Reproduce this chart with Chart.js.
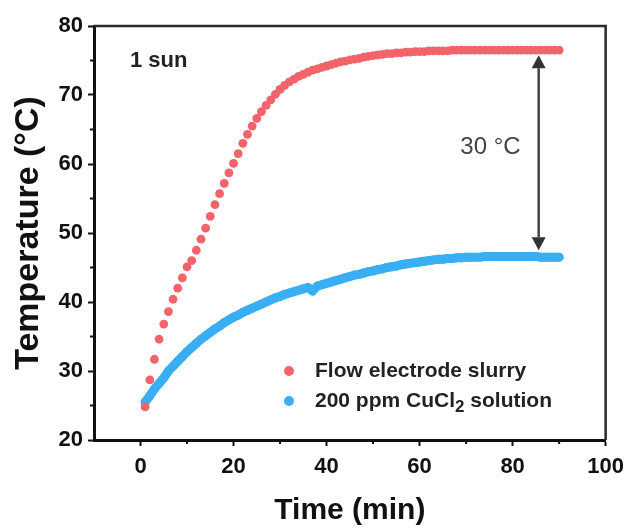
<!DOCTYPE html>
<html>
<head>
<meta charset="utf-8">
<script src="https://cdn.jsdelivr.net/npm/chart.js@4.4.1/dist/chart.umd.min.js"></script>
<style>
  html, body { margin: 0; padding: 0; background: #fff; }
</style>
</head>
<body>
<canvas id="temperature" width="632" height="529"></canvas>
<script>
// sampling times (min), one reading per minute
const minutes = [
  1, 2, 3, 4, 5, 6, 7, 8, 9, 10, 11, 12, 13, 14, 15, 16, 17, 18, 19, 20,
  21, 22, 23, 24, 25, 26, 27, 28, 29, 30, 31, 32, 33, 34, 35, 36, 37, 38, 39, 40,
  41, 42, 43, 44, 45, 46, 47, 48, 49, 50, 51, 52, 53, 54, 55, 56, 57, 58, 59, 60,
  61, 62, 63, 64, 65, 66, 67, 68, 69, 70, 71, 72, 73, 74, 75, 76, 77, 78, 79, 80,
  81, 82, 83, 84, 85, 86, 87, 88, 89, 90,
];

// flow electrode slurry (°C)
const slurryTemp = [
  24.8, 28.7, 31.7, 34.6, 36.8, 38.6, 40.4, 42.0, 43.5, 45.1,
  46.0, 47.5, 49.1, 50.7, 52.4, 54.1, 55.7, 57.2, 58.7, 60.1,
  61.5, 63.0, 64.3, 65.5, 66.6, 67.6, 68.5, 69.3, 70.1, 70.8,
  71.4, 71.9, 72.3, 72.7, 73.0, 73.3, 73.6, 73.8, 74.0, 74.2,
  74.4, 74.6, 74.8, 74.9, 75.1, 75.2, 75.3, 75.5, 75.6, 75.7,
  75.8, 75.9, 76.0, 76.0, 76.1, 76.1, 76.2, 76.2, 76.3, 76.3,
  76.3, 76.4, 76.4, 76.4, 76.4, 76.4, 76.5, 76.5, 76.5, 76.5,
  76.5, 76.5, 76.5, 76.5, 76.5, 76.5, 76.5, 76.5, 76.5, 76.5,
  76.5, 76.5, 76.5, 76.5, 76.5, 76.5, 76.5, 76.5, 76.5, 76.5,
];

// 200 ppm CuCl2 solution (°C)
const solutionTemp = [
  25.5, 26.4, 27.4, 28.2, 29.0, 30.0, 30.7, 31.4, 32.1, 32.8,
  33.4, 34.0, 34.6, 35.1, 35.6, 36.1, 36.5, 37.0, 37.4, 37.8,
  38.1, 38.5, 38.8, 39.1, 39.4, 39.7, 40.0, 40.3, 40.6, 40.8,
  41.1, 41.3, 41.5, 41.7, 41.9, 42.1, 41.6, 42.3, 42.5, 42.7,
  42.9, 43.1, 43.3, 43.5, 43.7, 43.9, 44.0, 44.2, 44.4, 44.5,
  44.7, 44.8, 45.0, 45.1, 45.2, 45.4, 45.5, 45.6, 45.7, 45.8,
  45.9, 46.0, 46.1, 46.2, 46.2, 46.3, 46.3, 46.4, 46.4, 46.5,
  46.5, 46.5, 46.5, 46.6, 46.6, 46.6, 46.6, 46.6, 46.6, 46.6,
  46.6, 46.6, 46.6, 46.6, 46.6, 46.5, 46.5, 46.5, 46.5, 46.5,
];

const xTicks = [0, 20, 40, 60, 80, 100];
const xMinor = [10, 30, 50, 70, 90];
const yTicks = [20, 30, 40, 50, 60, 70, 80];
const yMinor = [25, 35, 45, 55, 65, 75];

// temperature gap marked by the double arrow
const gapTime = 85.6;
const gapHigh = 76.5;
const gapLow = 46.5;
const gapLabel = "30 °C";
const conditionLabel = "1 sun";

const RED = "#F3636A";
const BLUE = "#3AAEF2";
const INK = "#111";
const FONT = "'Liberation Sans', Arial, sans-serif";

const series = [
  { label: "Flow electrode slurry", parts: ["Flow electrode slurry"], color: RED, values: slurryTemp },
  { label: "200 ppm CuCl2 solution", parts: ["200 ppm CuCl", "2", " solution"], color: BLUE, values: solutionTemp },
];

function points(values) {
  return minutes.map((t, i) => ({ x: t, y: values[i] }));
}

// frame, minor ticks, arrow, labels and the legend
const decorations = {
  id: "decorations",
  afterDraw(chart) {
    const { ctx, chartArea: area } = chart;
    const xs = chart.scales.x;
    const ys = chart.scales.y;
    ctx.save();

    ctx.strokeStyle = "#2a2a2a";
    ctx.lineWidth = 2.5;
    ctx.beginPath();
    ctx.moveTo(area.left, area.top);
    ctx.lineTo(area.right, area.top);
    ctx.lineTo(area.right, area.bottom);
    ctx.stroke();

    ctx.strokeStyle = INK;
    ctx.lineWidth = 2;
    ctx.beginPath();
    for (const v of xMinor) {
      const px = xs.getPixelForValue(v);
      ctx.moveTo(px, area.bottom);
      ctx.lineTo(px, area.bottom + 4);
    }
    for (const v of yMinor) {
      const py = ys.getPixelForValue(v);
      ctx.moveTo(area.left, py);
      ctx.lineTo(area.left - 4, py);
    }
    ctx.stroke();

    // double arrow between the plateaus
    const ax = xs.getPixelForValue(gapTime);
    const top = ys.getPixelForValue(gapHigh) + 5;
    const bot = ys.getPixelForValue(gapLow) - 7;
    const head = 13;
    ctx.strokeStyle = "#444";
    ctx.fillStyle = "#333";
    ctx.lineWidth = 2.5;
    ctx.beginPath();
    ctx.moveTo(ax, top + head);
    ctx.lineTo(ax, bot - head);
    ctx.stroke();
    ctx.beginPath();
    ctx.moveTo(ax, top);
    ctx.lineTo(ax - 7, top + head);
    ctx.lineTo(ax + 7, top + head);
    ctx.closePath();
    ctx.fill();
    ctx.beginPath();
    ctx.moveTo(ax, bot);
    ctx.lineTo(ax - 7, bot - head);
    ctx.lineTo(ax + 7, bot - head);
    ctx.closePath();
    ctx.fill();

    ctx.fillStyle = "#444";
    ctx.font = `24px ${FONT}`;
    ctx.textAlign = "right";
    ctx.textBaseline = "middle";
    ctx.fillText(gapLabel, ax - 18, (top + bot) / 2 - 5);

    ctx.fillStyle = "#222";
    ctx.font = `bold 22px ${FONT}`;
    ctx.textAlign = "left";
    ctx.fillText(conditionLabel, area.left + 36, area.top + 35);

    // legend
    let rowY = area.bottom - 69;
    for (const s of series) {
      ctx.fillStyle = s.color;
      ctx.beginPath();
      ctx.arc(area.left + 195, rowY, 5, 0, Math.PI * 2);
      ctx.fill();
      ctx.fillStyle = "#222";
      let tx = area.left + 221;
      s.parts.forEach((part, i) => {
        const sub = s.parts.length > 1 && i === 1;
        ctx.font = sub ? `bold 17px ${FONT}` : `bold 21px ${FONT}`;
        ctx.fillText(part, tx, sub ? rowY + 6 : rowY);
        tx += ctx.measureText(part).width;
      });
      rowY += 30;
    }
    ctx.restore();
  },
};

new Chart(document.getElementById("temperature"), {
  type: "scatter",
  data: {
    datasets: [
      {
        label: series[0].label,
        data: points(series[0].values),
        backgroundColor: RED,
        borderColor: RED,
        pointRadius: 4.4,
        pointBorderWidth: 0,
        showLine: false,
      },
      {
        label: series[1].label,
        data: points(series[1].values),
        backgroundColor: BLUE,
        borderColor: BLUE,
        borderWidth: 9,
        borderCapStyle: "round",
        borderJoinStyle: "round",
        pointRadius: 4.5,
        pointBorderWidth: 0,
        showLine: true,
        tension: 0,
      },
    ],
  },
  options: {
    responsive: false,
    animation: false,
    layout: { padding: { top: 26, right: 25, left: 0, bottom: 0 } },
    plugins: { legend: { display: false }, tooltip: { enabled: false } },
    scales: {
      x: {
        type: "linear",
        min: -10,
        max: 100,
        afterBuildTicks: (scale) => { scale.ticks = xTicks.map((v) => ({ value: v })); },
        afterFit: (scale) => { scale.height = 89; },
        grid: { drawOnChartArea: false, tickLength: 6, tickWidth: 2, tickColor: INK },
        border: { display: true, width: 3, color: INK },
        ticks: { color: INK, font: { family: FONT, size: 22, weight: "bold" }, padding: 8, maxRotation: 0 },
        title: {
          display: true,
          text: "Time (min)",
          color: INK,
          font: { family: FONT, size: 30, weight: "bold", lineHeight: 1.2 },
          padding: { top: 0, bottom: 0 },
        },
      },
      y: {
        type: "linear",
        min: 20,
        max: 80,
        afterBuildTicks: (scale) => { scale.ticks = yTicks.map((v) => ({ value: v })); },
        afterFit: (scale) => { scale.width = 94; },
        grid: { drawOnChartArea: false, tickLength: 6, tickWidth: 2, tickColor: INK },
        border: { display: true, width: 3, color: INK },
        ticks: { color: INK, font: { family: FONT, size: 22, weight: "bold" }, padding: 5 },
        title: {
          display: true,
          text: "Temperature (°C)",
          color: INK,
          font: { family: FONT, size: 34, weight: "bold", lineHeight: 1.2 },
          padding: { top: 8, bottom: 0 },
        },
      },
    },
  },
  plugins: [decorations],
});
</script>
</body>
</html>
